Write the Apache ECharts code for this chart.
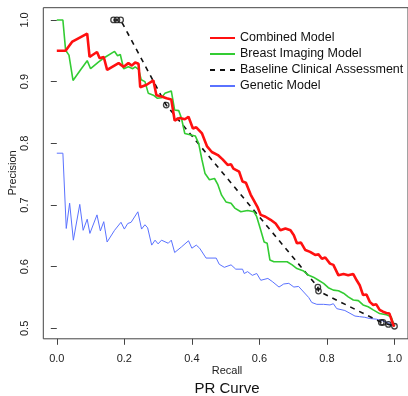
<!DOCTYPE html>
<html>
<head>
<meta charset="utf-8">
<script src="https://cdn.jsdelivr.net/npm/echarts@6/dist/echarts.min.js"></script>
<style>
html,body{margin:0;padding:0;background:#fff;}
#chart{width:408px;height:396px;}
</style>
</head>
<body>
<div id="chart"></div>
<script>
// ---- data ----
const combinedRecall = [0, 0.026, 0.046, 0.090, 0.097, 0.119, 0.127, 0.139, 0.149, 0.183, 0.198, 0.212, 0.222, 0.232, 0.242, 0.247, 0.266, 0.286, 0.295, 0.310, 0.325, 0.339, 0.349, 0.364, 0.379, 0.390, 0.403, 0.413, 0.430, 0.445, 0.459, 0.477, 0.491, 0.506, 0.516, 0.523, 0.540, 0.550, 0.560, 0.574, 0.594, 0.604, 0.618, 0.633, 0.648, 0.662, 0.677, 0.692, 0.702, 0.711, 0.723, 0.736, 0.750, 0.765, 0.775, 0.785, 0.795, 0.809, 0.819, 0.834, 0.849, 0.863, 0.878, 0.888, 0.897, 0.907, 0.917, 0.927, 0.937, 0.946, 0.956, 0.966, 0.976, 0.985, 0.990, 0.997, 1.0];
const combinedPrecision = [0.950, 0.950, 0.965, 0.978, 0.940, 0.948, 0.938, 0.940, 0.919, 0.930, 0.924, 0.930, 0.926, 0.931, 0.929, 0.891, 0.895, 0.902, 0.878, 0.876, 0.873, 0.871, 0.837, 0.841, 0.839, 0.843, 0.824, 0.826, 0.816, 0.795, 0.786, 0.781, 0.774, 0.765, 0.766, 0.759, 0.754, 0.738, 0.736, 0.717, 0.697, 0.684, 0.681, 0.676, 0.670, 0.659, 0.662, 0.659, 0.651, 0.638, 0.639, 0.627, 0.624, 0.619, 0.620, 0.613, 0.615, 0.605, 0.603, 0.586, 0.588, 0.586, 0.588, 0.578, 0.570, 0.554, 0.555, 0.543, 0.538, 0.539, 0.530, 0.527, 0.525, 0.524, 0.521, 0.505, 0.503];

const imagingRecall = [0, 0.018, 0.026, 0.036, 0.048, 0.070, 0.090, 0.100, 0.124, 0.144, 0.171, 0.180, 0.188, 0.198, 0.212, 0.225, 0.232, 0.242, 0.250, 0.261, 0.271, 0.286, 0.298, 0.310, 0.320, 0.339, 0.349, 0.361, 0.369, 0.379, 0.410, 0.420, 0.430, 0.439, 0.452, 0.467, 0.477, 0.488, 0.501, 0.516, 0.527, 0.545, 0.565, 0.584, 0.592, 0.604, 0.614, 0.623, 0.631, 0.643, 0.682, 0.697, 0.711, 0.731, 0.746, 0.760, 0.775, 0.790, 0.804, 0.819, 0.834, 0.849, 0.863, 0.878, 0.893, 0.907, 0.922, 0.937, 0.956, 0.976, 0.990, 1.0];
const imagingPrecision = [1.0, 1.0, 0.951, 0.943, 0.902, 0.919, 0.934, 0.921, 0.932, 0.940, 0.949, 0.942, 0.944, 0.921, 0.924, 0.921, 0.924, 0.920, 0.903, 0.900, 0.881, 0.878, 0.873, 0.874, 0.881, 0.885, 0.854, 0.853, 0.841, 0.816, 0.812, 0.800, 0.773, 0.751, 0.741, 0.743, 0.733, 0.716, 0.705, 0.703, 0.695, 0.689, 0.691, 0.689, 0.681, 0.659, 0.640, 0.638, 0.611, 0.608, 0.608, 0.603, 0.597, 0.593, 0.586, 0.583, 0.578, 0.573, 0.566, 0.562, 0.561, 0.557, 0.551, 0.546, 0.545, 0.538, 0.535, 0.530, 0.524, 0.522, 0.519, 0.503];

const geneticRecall = [0, 0.018, 0.028, 0.038, 0.049, 0.068, 0.078, 0.090, 0.098, 0.119, 0.129, 0.139, 0.149, 0.171, 0.176, 0.190, 0.200, 0.210, 0.220, 0.240, 0.251, 0.261, 0.269, 0.281, 0.291, 0.300, 0.310, 0.330, 0.339, 0.349, 0.369, 0.390, 0.400, 0.413, 0.423, 0.442, 0.472, 0.481, 0.496, 0.516, 0.530, 0.550, 0.555, 0.565, 0.579, 0.592, 0.604, 0.625, 0.638, 0.658, 0.672, 0.687, 0.702, 0.716, 0.731, 0.746, 0.755, 0.770, 0.790, 0.809, 0.819, 0.829, 0.853, 0.883, 0.897, 0.912, 0.927, 0.946, 0.966, 0.985, 1.0];
const geneticPrecision = [0.784, 0.784, 0.662, 0.703, 0.643, 0.701, 0.659, 0.677, 0.654, 0.684, 0.658, 0.673, 0.640, 0.659, 0.660, 0.672, 0.661, 0.670, 0.672, 0.689, 0.661, 0.668, 0.663, 0.635, 0.643, 0.637, 0.643, 0.638, 0.643, 0.623, 0.632, 0.642, 0.630, 0.635, 0.630, 0.614, 0.614, 0.604, 0.599, 0.603, 0.596, 0.596, 0.589, 0.592, 0.586, 0.589, 0.578, 0.581, 0.576, 0.567, 0.572, 0.573, 0.567, 0.568, 0.559, 0.550, 0.542, 0.539, 0.539, 0.538, 0.540, 0.532, 0.529, 0.520, 0.519, 0.518, 0.516, 0.515, 0.512, 0.508, 0.503];

const baselineRecall = [0.168, 0.178, 0.189, 0.324, 0.773, 0.775, 0.961, 0.966, 0.982, 1.0];
const baselinePrecision = [1.0, 1.0, 1.0, 0.862, 0.567, 0.5605, 0.5097, 0.5097, 0.5065, 0.5035];

const xTicks = [0, 0.2, 0.4, 0.6, 0.8, 1.0];
const yTicks = [0.5, 0.6, 0.7, 0.8, 0.9, 1.0];

const seriesNames = ['Combined Model', 'Breast Imaging Model', 'Baseline Clinical Assessment', 'Genetic Model'];

function pairs(xs, ys) { return xs.map((x, i) => [x, ys[i]]); }

const FONT = '"Liberation Sans", Arial, Helvetica, sans-serif';
const chart = echarts.init(document.getElementById('chart'), null, {renderer: 'canvas'});

chart.setOption({
  animation: false,
  backgroundColor: '#ffffff',
  grid: {left: 43.3, top: 7.7, width: 368.6, height: 331.1, show: true, borderColor: '#444', borderWidth: 1, backgroundColor: 'transparent', containLabel: false},
  xAxis: {
    type: 'value', min: -0.04, max: 1.04,
    axisLine: {show: false},
    splitLine: {show: false},
    axisTick: {show: true, length: 6, inside: false, customValues: xTicks, lineStyle: {color: '#444', width: 1}},
    axisLabel: {show: true, customValues: xTicks, margin: 15, fontSize: 11, color: '#222', fontFamily: FONT, formatter: v => v.toFixed(1)}
  },
  yAxis: {
    type: 'value', min: 0.48312, max: 1.01988,
    axisLine: {show: false},
    splitLine: {show: false},
    axisTick: {show: true, length: 6, inside: false, customValues: yTicks, lineStyle: {color: '#444', width: 1}},
    axisLabel: {show: true, customValues: yTicks, rotate: 90, margin: 13, fontSize: 11, color: '#222', fontFamily: FONT, formatter: v => v.toFixed(1)}
  },
  legend: {
    show: true, orient: 'vertical', left: 204, top: 26.5,
    itemWidth: 25, itemHeight: 12, itemGap: 3,
    data: seriesNames,
    itemStyle: {opacity: 0},
    textStyle: {fontSize: 12.5, color: '#111', fontFamily: FONT}
  },
  graphic: [
    {type: 'text', x: 227, y: 371, style: {text: 'Recall', fontSize: 11, fill: '#222', fontFamily: FONT, align: 'center', verticalAlign: 'middle'}},
    {type: 'text', x: 12.5, y: 173, rotation: Math.PI / 2, style: {text: 'Precision', fontSize: 11, fill: '#222', fontFamily: FONT, align: 'center', verticalAlign: 'middle'}},
    {type: 'text', x: 227, y: 389, style: {text: 'PR Curve', fontSize: 15, fill: '#111', fontFamily: FONT, align: 'center', verticalAlign: 'middle'}}
  ],
  series: [
    {name: seriesNames[3], type: 'line', data: pairs(geneticRecall, geneticPrecision), symbol: 'none', lineStyle: {color: '#5a72ff', width: 1}, itemStyle: {color: '#5a72ff'}, z: 2},
    {name: seriesNames[2], type: 'line', data: pairs(baselineRecall, baselinePrecision), symbol: 'none', lineStyle: {color: '#111', width: 1.6, type: [5, 5]}, itemStyle: {color: '#111'}, z: 3},
    {name: seriesNames[1], type: 'line', data: pairs(imagingRecall, imagingPrecision), symbol: 'none', lineStyle: {color: '#33cc33', width: 1.6}, itemStyle: {color: '#33cc33'}, z: 4},
    {name: 'points', type: 'scatter', data: pairs(baselineRecall, baselinePrecision), symbol: 'circle', symbolSize: 5.5, itemStyle: {color: 'rgba(255,255,255,0)', borderColor: '#111', borderWidth: 1.3}, z: 5, silent: true},
    {name: seriesNames[0], type: 'line', data: pairs(combinedRecall, combinedPrecision), symbol: 'none', lineStyle: {color: '#ff1010', width: 2.6}, itemStyle: {color: '#ff1010'}, z: 6}
  ]
});
</script>
</body>
</html>
